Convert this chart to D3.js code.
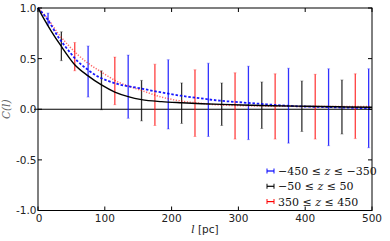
<!DOCTYPE html>
<html>
<head>
<meta charset="utf-8">
<script src="https://cdn.jsdelivr.net/npm/d3@7"></script>
<style>
  body { margin: 0; background: #fff; }
  svg { display: block; }
</style>
</head>
<body>
<svg id="chart" width="390" height="241" viewBox="0 0 390 241"></svg>
<script>
// ---- data ----
const xTicks = [0, 100, 200, 300, 400, 500]
const yTicks = [-1.0, -0.5, 0.0, 0.5, 1.0]

// error bars (l, low, high)
const blueL  = [15, 75, 135, 195, 255, 315, 375, 435, 495]
const blueLo = [0.83, 0.12, -0.09, -0.195, -0.27, -0.30, -0.335, -0.36, -0.38]
const blueHi = [0.95, 0.625, 0.535, 0.49, 0.455, 0.425, 0.405, 0.40, 0.40]

const blackL  = [35, 95, 155, 215, 275, 335, 395, 455]
const blackLo = [0.48, -0.005, -0.115, -0.14, -0.16, -0.19, -0.22, -0.245]
const blackHi = [0.765, 0.38, 0.285, 0.26, 0.26, 0.27, 0.28, 0.29]

const redL  = [55, 115, 175, 235, 295, 355, 415, 475]
const redLo = [0.38, 0.045, -0.16, -0.27, -0.295, -0.295, -0.295, -0.29]
const redHi = [0.66, 0.515, 0.445, 0.39, 0.36, 0.35, 0.345, 0.35]

// fitted curves
const blackCurveL = [0, 10, 20, 35, 55, 75, 95, 115, 135, 155, 185, 215, 245, 275, 305, 350, 400, 450, 500]
const blackCurveC = [1, 0.88, 0.77, 0.62, 0.44, 0.33, 0.24, 0.17, 0.125, 0.095, 0.075, 0.064, 0.055, 0.048, 0.042, 0.035, 0.03, 0.024, 0.02]

const blueCurveL = [0, 15, 30, 45, 60, 75, 90, 105, 120, 153, 183, 213, 243, 272, 302, 330, 377, 440, 497]
const blueCurveC = [1, 0.88, 0.717, 0.585, 0.47, 0.388, 0.322, 0.28, 0.248, 0.207, 0.168, 0.134, 0.108, 0.085, 0.069, 0.055, 0.033, 0.02, 0.01]

const redCurveL = [0, 15, 30, 45, 60, 75, 90, 105, 120, 135, 153, 183, 213, 243, 272, 302, 350, 400, 450, 497]
const redCurveC = [1, 0.89, 0.75, 0.635, 0.536, 0.454, 0.388, 0.325, 0.268, 0.23, 0.19, 0.124, 0.082, 0.059, 0.042, 0.036, 0.03, 0.028, 0.027, 0.026]

const legendLabels = ["\u2212450 \u2264 z \u2264 \u2212350", "\u221250 \u2264 z \u2264 50", "350 \u2264 z \u2264 450"]
const legendColors = ["#0000ff", "#000000", "#ff0000"]

// ---- drawing ----
const svg = d3.select("#chart")
const margin = {left: 38, right: 18, top: 8, bottom: 30.5}
const width = 390, height = 241

const x = d3.scaleLinear().domain([0, 500]).range([margin.left, width - margin.right])
const y = d3.scaleLinear().domain([-1, 1]).range([height - margin.bottom, margin.top])

const sans = "'DejaVu Sans', sans-serif"
const serif = "'DejaVu Serif', 'Liberation Serif', serif"

// zero line
svg.append("line")
    .attr("x1", x(0) - 4).attr("x2", x(500))
    .attr("y1", y(0)).attr("y2", y(0))
    .attr("stroke", "#000").attr("stroke-width", 1.2)

// error bars
function drawBars(ls, lo, hi, color, op) {
    const g = svg.append("g")
    ls.forEach((l, i) => {
        g.append("line")
            .attr("x1", x(l)).attr("x2", x(l))
            .attr("y1", y(lo[i])).attr("y2", y(hi[i]))
            .attr("stroke", color).attr("stroke-width", 1.3).attr("opacity", op)
        ;[lo[i], hi[i]].forEach(v => {
            g.append("line")
                .attr("x1", x(l) - 1.5).attr("x2", x(l) + 1.5)
                .attr("y1", y(v)).attr("y2", y(v))
                .attr("stroke", color).attr("stroke-width", 0.8).attr("opacity", 0.35)
        })
    })
}
drawBars(blueL, blueLo, blueHi, "#0000ff", 0.8)
drawBars(blackL, blackLo, blackHi, "#000000", 0.8)
drawBars(redL, redLo, redHi, "#ff0000", 0.75)

// curves
const line = d3.line().x(d => x(d[0])).y(d => y(d[1])).curve(d3.curveMonotoneX)
svg.append("path")
    .attr("d", line(redCurveL.map((l, i) => [l, redCurveC[i]])))
    .attr("fill", "none").attr("stroke", "#ff0000").attr("stroke-width", 1.5)
    .attr("stroke-dasharray", "1.2,1.6").attr("opacity", 0.6)
svg.append("path")
    .attr("d", line(blueCurveL.map((l, i) => [l, blueCurveC[i]])))
    .attr("fill", "none").attr("stroke", "#0000ff").attr("stroke-width", 1.8)
    .attr("stroke-dasharray", "2.5,1.8").attr("opacity", 0.9)
svg.append("path")
    .attr("d", line(blackCurveL.map((l, i) => [l, blackCurveC[i]])))
    .attr("fill", "none").attr("stroke", "#000").attr("stroke-width", 1.4)

// frame
svg.append("rect")
    .attr("x", x(0)).attr("y", y(1))
    .attr("width", x(500) - x(0)).attr("height", y(-1) - y(1))
    .attr("fill", "none").attr("stroke", "#000").attr("stroke-width", 1)

// ticks (inward, on all four sides)
const tickLen = 4
xTicks.forEach(t => {
    svg.append("line").attr("x1", x(t)).attr("x2", x(t))
        .attr("y1", y(-1)).attr("y2", y(-1) - tickLen).attr("stroke", "#000")
    svg.append("line").attr("x1", x(t)).attr("x2", x(t))
        .attr("y1", y(1)).attr("y2", y(1) + tickLen).attr("stroke", "#000")
    svg.append("text")
        .attr("x", x(t) + (t === 0 ? 1 : 0)).attr("y", y(-1) + 11.5)
        .attr("text-anchor", "middle")
        .attr("font-family", sans).attr("font-size", 10.5).attr("fill", "#222")
        .text(d3.format("d")(t))
})
yTicks.forEach(t => {
    svg.append("line").attr("x1", x(0)).attr("x2", x(0) + tickLen)
        .attr("y1", y(t)).attr("y2", y(t)).attr("stroke", "#000")
    svg.append("line").attr("x1", x(500)).attr("x2", x(500) - tickLen)
        .attr("y1", y(t)).attr("y2", y(t)).attr("stroke", "#000")
    svg.append("text")
        .attr("x", x(0) - 1.5).attr("y", y(t) + (t === -1 ? 3 : 4))
        .attr("text-anchor", "end")
        .attr("font-family", sans).attr("font-size", 10.5).attr("fill", "#222")
        .text(d3.format(".1f")(t).replace("\u2212", "-"))
})

// axis labels
const xl = svg.append("text")
    .attr("x", (x(0) + x(500)) / 2).attr("y", 233)
    .attr("text-anchor", "middle").attr("font-size", 10.5).attr("fill", "#222")
xl.append("tspan").attr("font-family", serif).attr("font-style", "italic").text("l")
xl.append("tspan").attr("font-family", sans).text(" [pc]")

svg.append("text")
    .attr("transform", `translate(10,${(y(1) + y(-1)) / 2}) rotate(-90)`)
    .attr("text-anchor", "middle")
    .attr("font-family", serif).attr("font-style", "italic")
    .attr("font-size", 10.5).attr("fill", "#666")
    .text("C(l)")

// legend
const legend = svg.append("g")
legendLabels.forEach((lab, i) => {
    const ly = 171 + i * 15.3
    const c = legendColors[i]
    legend.append("line").attr("x1", 267).attr("x2", 274).attr("y1", ly).attr("y2", ly)
        .attr("stroke", c).attr("stroke-width", 1.2)
    ;[267, 274].forEach(cx => {
        legend.append("line").attr("x1", cx).attr("x2", cx).attr("y1", ly - 2.5).attr("y2", ly + 2.5)
            .attr("stroke", c).attr("stroke-width", 1.2).attr("opacity", 0.8)
    })
    const t = legend.append("text")
        .attr("x", 278).attr("y", ly + 4)
        .attr("font-family", serif).attr("font-size", 11).attr("fill", "#111")
    const parts = lab.split("z")
    t.append("tspan").text(parts[0])
    t.append("tspan").attr("font-style", "italic").text("z")
    t.append("tspan").text(parts[1])
})
</script>
</body>
</html>
